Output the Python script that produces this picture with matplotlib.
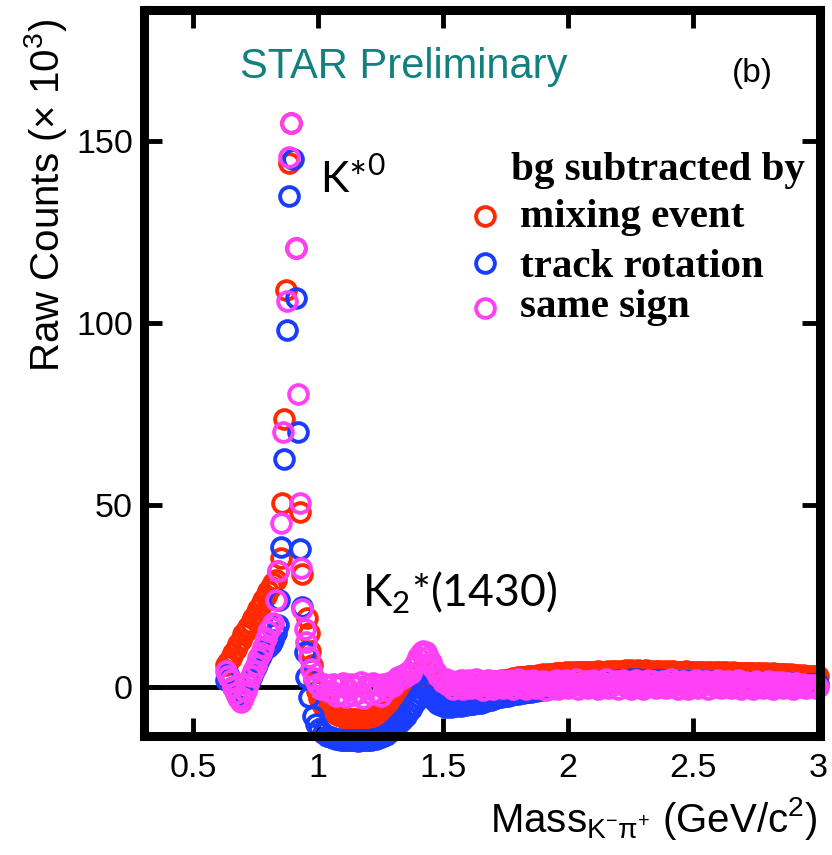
import numpy as np
import matplotlib
matplotlib.use("Agg")
import matplotlib.pyplot as plt

plt.rcParams['font.family'] = ['Liberation Sans', 'DejaVu Sans']

# ---- data (x in GeV/c^2, y in 10^3 counts) ----
# low-mass + K*0 peak region, each method has its own bin positions
x_mix_lo = [0.63, 0.64, 0.65, 0.66, 0.67, 0.68, 0.69, 0.70, 0.71, 0.72, 0.73, 0.74,
            0.75, 0.76, 0.77, 0.78, 0.79, 0.80, 0.81, 0.82, 0.83, 0.84, 0.85, 0.856,
            0.864, 0.873, 0.882, 0.893, 0.91, 0.926, 0.936, 0.956, 0.962, 0.968, 0.975,
            0.985, 0.995, 1.005, 1.015, 1.025, 1.04]
y_mix_lo = [6, 7, 8, 9.5, 10.5, 12, 13, 14.5, 15.5, 16.5, 17.5, 19,
            20, 21.5, 22.5, 24, 25, 26.5, 27.5, 28.5, 29.5, 32, 35.5, 50.5,
            73.6, 109, 144, 155, 120.6, 48, 31, 19, 15, 10, 6,
            2, -1, -3, -4.5, -5.5, -6]

x_rot_lo = [0.63, 0.64, 0.65, 0.66, 0.67, 0.68, 0.69, 0.70, 0.71, 0.72, 0.73, 0.74,
            0.75, 0.76, 0.77, 0.78, 0.79, 0.80, 0.81, 0.82, 0.83, 0.84, 0.845, 0.85,
            0.862, 0.875, 0.885, 0.90, 0.912, 0.918, 0.926, 0.935, 0.948, 0.952, 0.965,
            0.978, 0.99, 1.005, 1.02, 1.035]
y_rot_lo = [2, 3.5, 2, 0, -1.5, -2.5, -3, -2, -0.5, 1, 2.5, 4,
            5.5, 7, 8.5, 10, 11, 11, 12, 13, 15, 17, 24, 38.4,
            62.6, 98, 135, 145, 107, 70, 38, 22, 9.6, 2.7, -2.7,
            -8, -10, -11.5, -12.5, -13.5]

x_ss_lo = [0.63, 0.64, 0.65, 0.66, 0.67, 0.68, 0.69, 0.70, 0.71, 0.72, 0.73, 0.74,
           0.75, 0.76, 0.77, 0.78, 0.79, 0.80, 0.81, 0.82, 0.83, 0.838, 0.85, 0.86,
           0.876, 0.884, 0.893, 0.912, 0.92, 0.928, 0.932, 0.936, 0.946, 0.952, 0.962,
           0.972, 0.985, 0.995, 1.01, 1.025, 1.04]
y_ss_lo = [4.5, 3, 2, 0, -1.5, -3, -4, -3, -1, 1, 3, 4.5,
           6, 8, 9.5, 11, 13.5, 15.5, 16.5, 17.6, 24, 32, 45, 70,
           106, 145.6, 155, 120.6, 80.5, 50.5, 32.7, 21.5, 16, 12.4, 8.3,
           5, 2.5, 1, -0.5, 0.8, -1]

# common 10 MeV binning from 1.05 to 3.0 GeV/c^2 (one row = 10 bins)
x_tail = np.round(np.arange(1.05, 3.0001, 0.01), 3)

y_mix_tail = [
    -6.5, -6.9, -7.3, -7.6, -7.9, -8.2, -8.4, -8.6, -8.7, -8.8,
    -8.8, -8.9, -8.8, -8.7, -8.6, -8.4, -8.2, -7.9, -7.6, -7.3,
    -6.9, -6.5, -6.1, -5.6, -5.2, -4.7, -4.2, -3.6, -3.0, -2.4,
    -1.0, -0.4, 0.3, 1.1, 2.0, 3.0, 4.2, 5.4, 4.6, 3.4,
    2.6, 2.0, 1.5, 1.1, 0.8, 0.6, 0.4, 0.3, 0.2, 0.2,
    0.2, 0.3, 0.3, 0.4, 0.5, 0.6, 0.6, 0.7, 0.8, 0.9,
    1.0, 1.1, 1.2, 1.3, 1.4, 1.5, 1.6, 1.7, 1.8, 1.9,
    2.0, 2.1, 2.3, 2.4, 2.5, 2.7, 2.8, 2.9, 2.8, 3.0,
    3.1, 3.2, 3.1, 3.3, 3.4, 3.5, 3.4, 3.6, 3.7, 3.6,
    3.8, 3.9, 3.8, 3.9, 4.1, 4.0, 4.1, 4.0, 4.2, 4.1,
    4.2, 4.1, 4.3, 4.2, 4.1, 4.3, 4.2, 4.4, 4.3, 4.2,
    4.3, 4.4, 4.3, 4.5, 4.4, 4.3, 4.5, 4.4, 4.6, 4.5,
    4.7, 4.5, 4.4, 4.6, 4.5, 4.4, 4.6, 4.4, 4.5, 4.3,
    4.4, 4.5, 4.3, 4.4, 4.2, 4.4, 4.3, 4.5, 4.3, 4.2,
    4.3, 4.2, 4.4, 4.2, 4.3, 4.1, 4.2, 4.3, 4.1, 4.2,
    4.0, 4.2, 4.1, 4.0, 4.2, 4.1, 4.0, 4.1, 4.2, 4.0,
    3.9, 4.1, 4.0, 3.9, 4.0, 3.8, 3.9, 4.0, 3.8, 3.9,
    3.7, 3.8, 3.9, 3.7, 3.8, 3.6, 3.7, 3.8, 3.6, 3.7,
    3.5, 3.6, 3.5, 3.4, 3.5, 3.3, 3.4, 3.3, 3.2, 3.3,
    3.2, 3.1, 3.2, 3.0, 3.1, 3.0]

y_rot_tail = [
    -13.8, -14.0, -14.2, -14.3, -14.4, -14.5, -14.6, -14.5, -14.6, -14.5,
    -14.6, -14.7, -14.6, -14.5, -14.6, -14.4, -14.5, -14.3, -14.2, -14.0,
    -13.8, -13.4, -13.0, -12.5, -12.0, -11.4, -10.8, -10.1, -9.4, -8.6,
    -7.8, -6.9, -6.0, -5.0, -3.9, -2.8, -1.6, -0.3, 0.5, -0.8,
    -2.2, -3.3, -4.1, -4.6, -5.0, -5.2, -5.3, -5.2, -5.3, -5.1,
    -5.2, -5.0, -5.1, -4.9, -4.8, -4.7, -4.6, -4.5, -4.4, -4.3,
    -4.2, -4.0, -3.8, -3.6, -3.4, -3.2, -3.0, -2.8, -2.7, -2.5,
    -2.4, -2.3, -2.1, -2.0, -1.9, -1.8, -1.7, -1.5, -1.4, -1.3,
    -1.2, -1.1, -1.0, -0.9, -0.8, -0.6, -0.5, -0.4, -0.3, -0.2,
    -0.1, 0.0, 0.1, 0.3, 0.4, 0.5, 0.6, 0.7, 0.8, 0.9,
    1.0, 1.1, 1.1, 1.2, 1.3, 1.4, 1.3, 1.5, 1.6, 1.5,
    1.6, 1.7, 1.6, 1.8, 1.7, 1.9, 1.8, 2.0, 1.9, 2.1,
    2.3, 2.1, 2.0, 2.2, 2.1, 2.0, 1.9, 2.0, 1.9, 1.8,
    2.0, 1.9, 1.8, 1.9, 1.7, 1.9, 1.8, 1.7, 1.8, 1.6,
    1.7, 1.8, 1.6, 1.7, 1.6, 1.7, 1.5, 1.6, 1.7, 1.5,
    1.6, 1.5, 1.4, 1.6, 1.5, 1.4, 1.5, 1.3, 1.4, 1.5,
    1.4, 1.3, 1.4, 1.5, 1.3, 1.4, 1.2, 1.3, 1.4, 1.2,
    1.3, 1.2, 1.1, 1.3, 1.2, 1.1, 1.2, 1.0, 1.1, 1.2,
    1.0, 1.1, 1.0, 0.9, 1.1, 1.0, 0.9, 1.0, 0.8, 0.9,
    0.9, 0.8, 0.9, 0.7, 0.8, 0.8]

y_ss_tail = [
    -1.0, 0.8, -2.5, 0.2, -1.8, 1.2, -2.8, -0.5, 0.9, -2.2,
    0.4, -1.5, 1.3, -2.9, -0.2, 0.8, -2.0, 1.1, -1.2, 0.5,
    -2.4, 1.0, -0.8, 0.6, 1.5, 0.4, 2.0, 2.8, 2.2, 3.4,
    3.0, 4.2, 3.8, 5.5, 6.8, 8.2, 9.5, 10.0, 9.6, 8.4,
    6.8, 5.2, 4.3, 3.0, 2.6, 1.4, 2.2, 0.5, 1.8, -0.4,
    1.5, 0.2, 2.0, -0.6, 1.0, 1.9, -0.2, 0.8, 2.2, 0.1,
    1.4, -0.7, 0.9, 2.0, 0.3, -0.5, 1.6, 0.7, 2.1, -0.3,
    1.2, 0.4, 1.9, -0.6, 0.8, 2.2, 0.0, 1.3, -0.4, 1.7,
    0.6, 2.0, -0.2, 1.1, 0.3, 1.8, -0.7, 0.9, 1.5, 0.1,
    2.1, -0.4, 1.0, 0.5, 1.9, -0.1, 1.3, 0.7, 2.3, -0.5,
    1.1, 0.2, 1.8, -0.3, 0.9, 2.0, 0.4, -0.6, 1.5, 0.8,
    2.2, -0.2, 1.2, 0.5, 1.7, -0.5, 1.0, 2.1, 0.3, 1.4,
    -0.4, 0.8, 1.9, 0.1, 1.3, -0.6, 0.7, 2.0, 0.4, 1.6,
    -0.3, 1.1, 0.6, 1.8, -0.1, 0.9, 2.2, 0.2, 1.4, -0.5,
    1.0, 1.7, 0.3, -0.4, 1.5, 0.8, 2.0, -0.2, 1.2, 0.5,
    1.8, -0.6, 0.9, 1.4, 0.1, 2.1, -0.3, 1.0, 0.6, 1.6,
    -0.2, 1.3, 0.4, 1.9, -0.5, 0.8, 1.5, 0.0, 1.1, -0.4,
    1.7, 0.5, 1.2, -0.3, 0.9, 1.8, 0.2, -0.6, 1.3, 0.6,
    1.5, -0.2, 0.8, 1.1, 0.3, -0.5, 1.2, 0.7, 0.1, 0.9,
    -0.3, 0.6, 0.2, 0.5, -0.1, 0.0]

methods = ["mixing event", "track rotation", "same sign"]
colors = ["#ff2a00", "#1a3cff", "#ff40f5"]

x_all = [np.concatenate([x_mix_lo, x_tail]),
         np.concatenate([x_rot_lo, x_tail]),
         np.concatenate([x_ss_lo, x_tail])]
y_all = [np.concatenate([y_mix_lo, y_mix_tail]),
         np.concatenate([y_rot_lo, y_rot_tail]),
         np.concatenate([y_ss_lo, y_ss_tail])]

xticks = [0.5, 1, 1.5, 2, 2.5, 3]
xticklabels = ["0.5", "1", "1.5", "2", "2.5", "3"]
yticks = [0, 50, 100, 150]

# ---- figure ----
W, H = 832, 855
fig = plt.figure(figsize=(W / 100, H / 100), dpi=100)
ax = fig.add_axes([144 / W, 1 - 736 / H, 676 / W, 726 / H])

ax.axhline(0, color="black", lw=3.5, zorder=1)
mk = dict(marker="o", ls="none", mfc="none", ms=13.5, mew=2.8)
for i in range(3):
    # markers are not clipped at the frame, as in the original figure
    ax.plot(x_all[i], y_all[i], mec=colors[i], zorder=2 + i, clip_on=False, **mk)

ax.set_xlim(0.303, 3.008)
ax.set_ylim(-13.4, 186)
ax.set_xticks(xticks)
ax.set_xticklabels(xticklabels)
ax.set_yticks(yticks)
ax.tick_params(direction="in", length=13, width=3.5, top=True, right=True,
               labelsize=24.5, colors="black")
ax.tick_params(axis="x", pad=12)
ax.tick_params(axis="y", pad=8)
for s in ax.spines.values():
    s.set_linewidth(6.5)
    s.set_zorder(10)

# axis titles
fig.text(46 / W, 1 - 372 / H, r"Raw Counts (× 10$^{\mathregular{3}}$)",
         rotation=90, ha="center", va="bottom", fontsize=29)
fig.text(490 / W, 1 - 832 / H,
         r"Mass$_{\mathregular{K^{-}π^{+}}}$ (GeV/c$^{\mathregular{2}}$)",
         ha="left", va="baseline", fontsize=29)

# annotations
ax.text(0.142, 0.906, "STAR Preliminary", transform=ax.transAxes, color="#12807f",
        fontsize=30, ha="left", va="baseline")
ax.text(0.8698, 0.9007, "(b)", transform=ax.transAxes, fontsize=24,
        ha="left", va="baseline")
ax.text(1.008, 135.7, r"K*$^{\mathregular{0}}$", family="Lato", fontsize=31,
        ha="left", va="baseline", zorder=6)
ax.text(1.176, 22.0, r"K$_{\mathregular{2}}$*(1430)", family="Lato", fontsize=32,
        ha="left", va="baseline", zorder=6)

# legend, built by hand
serif = dict(family="Liberation Serif", weight="bold", fontsize=29.5)
ax.text(0.978, 0.7655, "bg subtracted by", transform=ax.transAxes,
        ha="right", va="baseline", **serif)
leg_y = [0.716, 0.651, 0.590]
txt_y = [0.7007, 0.6317, 0.5766]
for i in range(3):
    ax.plot([0.5044], [leg_y[i]], transform=ax.transAxes, mec=colors[i],
            clip_on=False, zorder=6, **mk)
    ax.text(0.556, txt_y[i], methods[i], transform=ax.transAxes,
            ha="left", va="baseline", **serif)

fig.savefig("out.png", dpi=100)
